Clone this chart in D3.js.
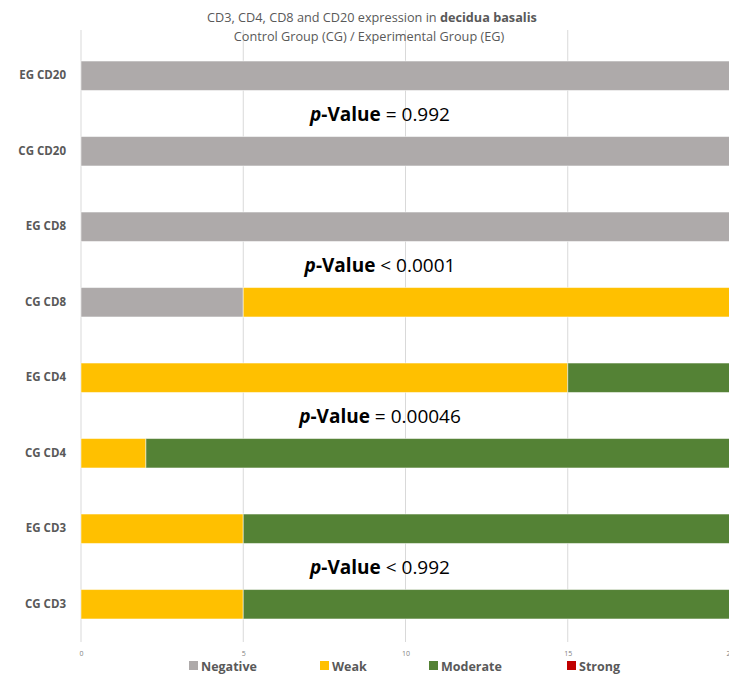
<!DOCTYPE html>
<html>
<head>
<meta charset="utf-8">
<script src="https://cdn.jsdelivr.net/npm/d3@7"></script>
<style>
  body { margin: 0; background: #fff; }
  svg { display: block; font-family: "Open Sans", Lato, sans-serif; }
</style>
</head>
<body>
<div id="chart"></div>
<script>
// categories top to bottom
var categories = ['EG CD20', 'CG CD20', 'EG CD8', 'CG CD8', 'EG CD4', 'CG CD4', 'EG CD3', 'CG CD3'];
var seriesNames = ['Negative', 'Weak', 'Moderate', 'Strong'];
var negative = [20, 20, 20, 5, 0, 0, 0, 0];
var weak     = [0, 0, 0, 15, 15, 2, 5, 5];
var moderate = [0, 0, 0, 0, 5, 18, 15, 15];
var strong   = [0, 0, 0, 0, 0, 0, 0, 0];
var xTicks = [0, 5, 10, 15, 20];
// p-value labels, placed between each pair of bars
var pOps = ['=', '<', '=', '<'];
var pVals = ['0.992', '0.0001', '0.00046', '0.992'];
var pPairs = [['EG CD20', 'CG CD20'], ['EG CD8', 'CG CD8'], ['EG CD4', 'CG CD4'], ['EG CD3', 'CG CD3']];

var colors = ['#AEAAAA', '#FFC000', '#548235', '#C00000'];

var width = 729, height = 675;
var margin = { top: 38, right: -1, bottom: 33, left: 81 };

var svg = d3.select('#chart').append('svg')
  .attr('width', width)
  .attr('height', height);

var x = d3.scaleLinear()
  .domain([0, 20])
  .range([margin.left, width - margin.right]);

var y = d3.scaleBand()
  .domain(categories)
  .range([margin.top, height - margin.bottom])
  .paddingInner(0.61)
  .paddingOuter(0.305);

// grid lines
svg.append('g')
  .attr('class', 'grid')
  .selectAll('line')
  .data(xTicks)
  .enter()
  .append('line')
  .attr('x1', d => x(d)).attr('x2', d => x(d))
  .attr('y1', 30).attr('y2', height - margin.bottom)
  .attr('stroke', '#d9d9d9')
  .attr('stroke-width', 1);

// stacked bars
var table = categories.map(function(c, i) {
  return { cat: c, Negative: negative[i], Weak: weak[i], Moderate: moderate[i], Strong: strong[i] };
});
var stack = d3.stack().keys(seriesNames)(table);

svg.append('g')
  .selectAll('g')
  .data(stack)
  .enter()
  .append('g')
  .attr('fill', (d, i) => colors[i])
  .selectAll('rect')
  .data(d => d)
  .enter()
  .append('rect')
  .attr('x', d => x(d[0]))
  .attr('y', d => y(d.data.cat))
  .attr('width', d => x(d[1]) - x(d[0]))
  .attr('height', y.bandwidth())
  .attr('stroke', '#fff')
  .attr('stroke-opacity', 0.5)
  .attr('stroke-width', 1);

// y axis labels
var yAxis = d3.axisLeft(y).tickSize(0).tickPadding(15);
var yg = svg.append('g')
  .attr('transform', 'translate(' + margin.left + ',0)')
  .call(yAxis);
yg.select('.domain').remove();
yg.selectAll('text')
  .attr('fill', '#595959')
  .attr('font-size', 11.5)
  .attr('font-weight', 'bold')
  .attr('font-family', '"Open Sans", sans-serif');

// x axis
var xAxis = d3.axisBottom(x).tickValues(xTicks).tickSize(0).tickPadding(9);
var xg = svg.append('g')
  .attr('transform', 'translate(0,' + (height - margin.bottom) + ')')
  .call(xAxis);
xg.select('.domain').remove();
xg.selectAll('text')
  .attr('fill', '#7f7f7f')
  .attr('font-size', 7)
  .attr('font-family', '"Open Sans", sans-serif');

// title
var title = svg.append('text')
  .attr('x', 372)
  .attr('y', 22)
  .attr('text-anchor', 'middle')
  .attr('fill', '#595959')
  .attr('font-size', 12.7);
title.append('tspan').text('CD3, CD4, CD8 and CD20 expression in ');
title.append('tspan').attr('font-weight', 'bold').text('decidua basalis');
svg.append('text')
  .attr('x', 369)
  .attr('y', 41)
  .attr('text-anchor', 'middle')
  .attr('fill', '#595959')
  .attr('font-size', 12.7)
  .text('Control Group (CG) / Experimental Group (EG)');

// p-values
pPairs.forEach(function(p, i) {
  var cy = (y(p[0]) + y(p[1]) + y.bandwidth()) / 2;
  var t = svg.append('text')
    .attr('x', 380)
    .attr('y', cy + 1)
    .attr('dy', '0.35em')
    .attr('text-anchor', 'middle')
    .attr('fill', '#000')
    .attr('font-size', 19);
  t.append('tspan').attr('font-weight', 'bold').attr('font-style', 'italic').text('p');
  t.append('tspan').attr('font-weight', 'bold').text('-Value');
  t.append('tspan').text(' ' + pOps[i] + ' ' + pVals[i]);
});

// legend
var legendX = [189, 320, 429, 567];
var legend = svg.append('g')
  .selectAll('g')
  .data(seriesNames)
  .enter()
  .append('g')
  .attr('transform', (d, i) => 'translate(' + legendX[i] + ',661)');
legend.append('rect')
  .attr('width', 9).attr('height', 9)
  .attr('fill', (d, i) => colors[i]);
legend.append('text')
  .attr('x', 12)
  .attr('y', 10)
  .attr('fill', '#595959')
  .attr('font-size', 12.5)
  .attr('font-weight', 'bold')
  .attr('font-family', '"Open Sans", sans-serif')
  .text(d => d);
</script>
</body>
</html>
